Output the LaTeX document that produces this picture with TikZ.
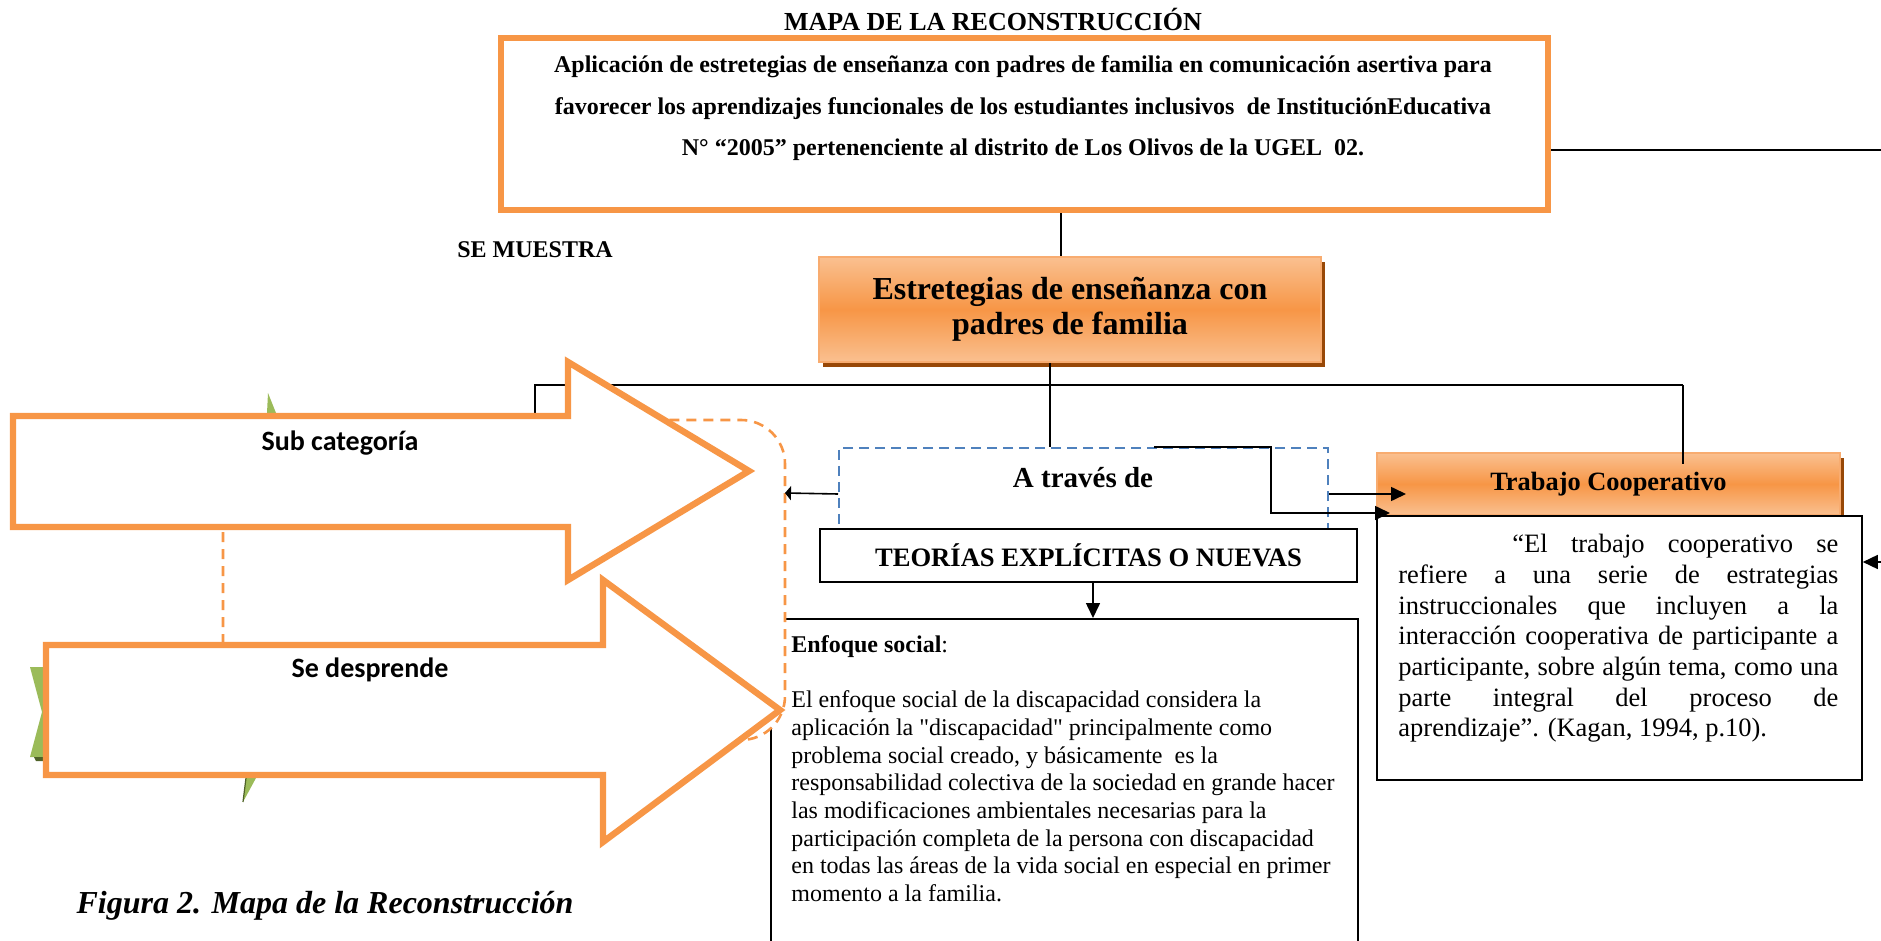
\documentclass[tikz,border=0pt]{standalone}
\usepackage{fontspec}
\setmainfont{Liberation Serif}
\newfontfamily\calibrifont{Carlito}
\usetikzlibrary{arrows.meta,shadows,calc}
\definecolor{accorange}{RGB}{247,150,70}
\definecolor{lightorange}{RGB}{250,192,144}
\definecolor{rimorange}{RGB}{248,172,112}
\definecolor{shadowbrown}{RGB}{152,72,7}
\definecolor{accblue}{RGB}{79,129,189}
\definecolor{leafgreen}{RGB}{155,187,89}
\definecolor{darkleaf}{RGB}{79,98,40}
\begin{document}
\begin{tikzpicture}[x=0.5pt,y=-0.5pt,
 orangeframe/.style={draw=accorange,line width=3.2pt,line join=miter},
 gradbox/.style={draw=rimorange,line width=0.8pt,top color=lightorange,bottom color=lightorange,middle color=accorange,
   drop shadow={shadow xshift=2pt,shadow yshift=-2.5pt,fill=shadowbrown,opacity=1},inner sep=0pt,align=center},
 plainbox/.style={draw=black,line width=0.8pt,fill=white,inner sep=0pt},
 conn/.style={draw=black,line width=0.8pt},
 arrowed/.style={-{Triangle[length=7.5pt,width=7pt]}},
 bodytext/.style={anchor=north west,inner sep=0pt}]
 \useasboundingbox (0,0) rectangle (1881,941);
 % fondo: recuadro, figura verde y marco punteado
 \node[plainbox,minimum width=293.5pt,minimum height=170pt,anchor=north west] (enfoque) at (770,618) {};
 \fill[leafgreen] (267,413) -- (268,393) -- (276,413) -- cycle;
 \fill[leafgreen] (30,667) -- (48,667) -- (48,757) -- (30,757) -- (42,712) -- cycle;
 \fill[darkleaf] (34,757) -- (48,757) -- (48,761) -- (36,761) -- cycle;
 \fill[leafgreen] (243,802) -- (246,778) -- (256,778) -- cycle;
 \draw[darkleaf,line width=0.6pt] (243,802) -- (246,778);
 \draw[accorange,line width=1.3pt,dash pattern=on 5pt off 3.5pt,fill=white,rounded corners=22pt] (223,420) rectangle (785,740);
 \coordinate (hl) at (535,385);
 \coordinate (hr) at (1683,385);
 \coordinate (hlb) at (535,420);
 \draw[conn] (hlb) -- (hl) -- (hr);
 % flechas grandes
 \draw[orangeframe,fill=white] (13,416) -- (568,416) -- (568,362) -- (749,471) -- (568,580) -- (568,527) -- (13,527) -- cycle;
 \draw[orangeframe,fill=white] (46,645) -- (603,645) -- (603,580) -- (780,710) -- (603,842) -- (603,775) -- (46,775) -- cycle;
 \node[font=\calibrifont\bfseries\fontsize{14}{16}\selectfont] (subcat) at (340,443) {Sub categoría};
 \node[font=\calibrifont\bfseries\fontsize{14}{16}\selectfont] (sedesp) at (370,670) {Se desprende};
 % cajas
 \node[font=\bfseries\fontsize{13}{15}\selectfont] (title) at (993,19) {MAPA DE LA RECONSTRUCCIÓN};
 \node[orangeframe,minimum width=523.5pt,minimum height=86pt] (topbox) at (1024.5,124) {};
 \node[font=\bfseries\fontsize{12}{20.75}\selectfont,align=center] (toptext) at (1023,108.5)
  {Aplicación de estretegias de enseñanza con padres de familia en comunicación asertiva para\\
   favorecer los aprendizajes funcionales de los estudiantes inclusivos\ \ de InstituciónEducativa\\
   N° “2005” pertenenciente al distrito de Los Olivos de la UGEL\ \ 02.};
 \node[font=\bfseries\fontsize{12}{14}\selectfont] (semuestra) at (535,250) {SE MUESTRA};
 \node[gradbox,minimum width=251pt,minimum height=52.5pt,font=\bfseries\fontsize{16}{17.5}\selectfont] (estr) at (1070,309.5)
  {Estretegias de enseñanza con\\padres de familia};
 \node[draw=accblue,line width=1pt,dash pattern=on 5pt off 3pt,minimum width=244.5pt,minimum height=46pt] (atraves) at (1083.5,494) {};
 \node[font=\bfseries\fontsize{14.5}{16}\selectfont] (atravestxt) at (1083,478) {A través de};
 \node[plainbox,minimum width=268.5pt,minimum height=26.5pt,font=\bfseries\fontsize{13.3}{15}\selectfont] (teorias) at (1088.5,555.5)
  {TEORÍAS EXPLÍCITAS O NUEVAS};
 \node[bodytext,align=left,font=\fontsize{12}{13.85}\selectfont] (enftext) at (791,635)
  {\textbf{Enfoque social}:\\[13.85pt]
   El enfoque social de la discapacidad considera la\\
   aplicación la \textquotedbl discapacidad\textquotedbl\ principalmente como\\
   problema social creado, y básicamente\ \ es la\\
   responsabilidad colectiva de la sociedad en grande hacer\\
   las modificaciones ambientales necesarias para la\\
   participación completa de la persona con discapacidad\\
   en todas las áreas de la vida social en especial en primer\\
   momento a la familia.};
 \node[gradbox,minimum width=231.5pt,minimum height=31pt,font=\bfseries\fontsize{13.2}{15}\selectfont] (trabhead) at (1608.5,484)
  {Trabajo Cooperativo};
 \node[plainbox,minimum width=242.5pt,minimum height=132pt] (trabtext) at (1619.5,648) {};
 \node[bodytext,text width=220pt,align=justify,font=\fontsize{13.25}{15.35}\selectfont] (quote) at (1398,534)
  {\noindent\hspace*{57pt}“El trabajo cooperativo se\linebreak
   refiere a una serie de estrategias\linebreak
   instruccionales que incluyen a la\linebreak
   interacción cooperativa de participante a\linebreak
   participante, sobre algún tema, como una\linebreak
   parte integral del proceso de\linebreak
   aprendizaje”. (Kagan, 1994, p.10).};
 \node[font=\bfseries\itshape\fontsize{16}{18}\selectfont] (caption) at (325,906) {Figura 2. Mapa de la Reconstrucción};
 % conectores
 \coordinate (xa) at (1061,0);
 \coordinate (xb) at (1050,0);
 \coordinate (xc) at (1093,0);
 \draw[conn] (topbox.south -| xa) -- (estr.north -| xa);
 \draw[conn] (estr.south -| xb) -- (atraves.north -| xb);
 \draw[conn] (hr) -- ($(trabhead.north -| hr)+(0,12)$);
 \coordinate (edgetop) at (1881,150);
 \draw[conn,line width=1pt] (topbox.east |- edgetop) -- (edgetop);
 \coordinate (edgeq) at (1881,562);
 \draw[conn,arrowed] (edgeq) -- (edgeq -| trabtext.east);
 \coordinate (k3) at (1406,494);
 \draw[conn,arrowed] (atraves.east) -- (k3);
 \coordinate (kt) at (1154,0);
 \coordinate (k1) at (1271,513);
 \coordinate (k2) at (1390,513);
 \draw[conn,arrowed] (atraves.north -| kt) -| (k1) -- (k2);
 \coordinate (dashend) at (785,493);
 \draw[conn,-{Triangle[length=3pt,width=7pt]}] (atraves.west) -- (dashend);
 \draw[conn,arrowed] (teorias.south -| xc) -- (enfoque.north -| xc);
\end{tikzpicture}
\end{document}
